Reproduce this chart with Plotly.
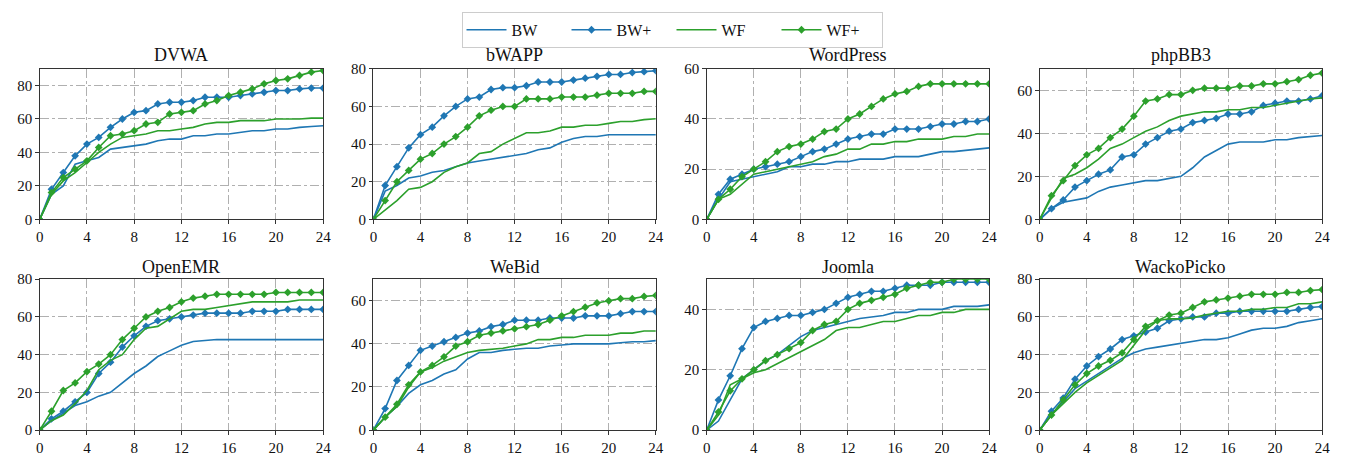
import plotly.graph_objects as go

# ---------------- data ----------------
X = list(range(25))
X_TICKS = [0, 4, 8, 12, 16, 20, 24]
APPS = ["DVWA", "bWAPP", "WordPress", "phpBB3", "OpenEMR", "WeBid", "Joomla", "WackoPicko"]
SERIES = ["BW", "BW+", "WF", "WF+"]
Y_MAX = [90, 80, 60, 70, 80, 70, 50, 80]

DVWA_BW  = [0, 15, 20, 33, 35, 37, 42, 43, 44, 45, 47, 48, 48, 50, 50, 51, 51, 52, 53, 53, 54, 54, 55, 55.5, 56]
DVWA_BWp = [0, 18, 28, 38, 45, 49, 55, 60, 64, 65, 69, 70, 70, 71, 73, 73, 73, 74, 75, 76, 77, 77, 78, 78.5, 78.5]
DVWA_WF  = [0, 15, 23, 28, 34, 40, 45, 49, 50, 51, 53, 53, 54, 55, 57, 58, 58, 59, 59, 59, 60, 60, 60, 60.5, 60.5]
DVWA_WFp = [0, 16, 25, 30, 35, 43, 50, 51, 53, 57, 58, 63, 64, 65, 69, 71, 74, 76, 78, 81, 83, 84, 86, 88, 89]

bWAPP_BW  = [0, 15, 18, 22, 23, 25, 26, 28, 30, 31, 32, 33, 34, 35, 37, 38, 41, 43, 44, 44, 45, 45, 45, 45, 45]
bWAPP_BWp = [0, 18, 28, 38, 45, 49, 55, 60, 64, 65, 69, 70, 70, 71, 73, 73, 73, 74, 75, 76, 77, 77, 78, 78.5, 79]
bWAPP_WF  = [0, 5, 10, 16, 17, 20, 25, 28, 30, 35, 36, 40, 43, 46, 46, 47, 49, 49, 50, 50, 51, 52, 52, 53, 53.5]
bWAPP_WFp = [0, 10, 20, 26, 32, 35, 40, 44, 49, 55, 58, 60, 60, 64, 64, 64, 65, 65, 65, 66, 67, 67, 67, 68, 68]

WordPress_BW  = [0, 8, 15, 16, 17, 18, 19, 21, 21, 22, 22, 23, 23, 24, 24, 24, 25, 25, 25, 26, 27, 27, 27.5, 28, 28.5]
WordPress_BWp = [0, 10, 16, 18, 20, 21, 22, 23, 25, 27, 28, 30, 32, 33, 34, 34, 36, 36, 36, 37, 38, 38, 39, 39, 40]
WordPress_WF  = [0, 8, 10, 14, 18, 19, 20, 21, 22, 23, 25, 26, 28, 28, 30, 30, 31, 31, 32, 32, 32, 33, 33, 34, 34]
WordPress_WFp = [0, 8, 12, 17, 20, 23, 27, 29, 30, 32, 35, 36, 40, 42, 45, 48, 50, 51, 53, 54, 54, 54, 54, 54, 54]

phpBB3_BW  = [0, 5, 8, 9, 10, 13, 15, 16, 17, 18, 18, 19, 20, 24, 29, 32, 35, 36, 36, 36, 37, 37, 38, 38.5, 39]
phpBB3_BWp = [0, 5, 9, 15, 18, 21, 23, 29, 30, 35, 38, 41, 42, 45, 46, 47, 49, 49, 50, 53, 54, 55, 55, 56, 57.5]
phpBB3_WF  = [0, 10, 19, 21, 24, 28, 33, 35, 38, 41, 43, 46, 48, 49, 50, 50, 51, 51, 52, 52, 53, 54, 55, 56, 56.5]
phpBB3_WFp = [0, 11, 18, 25, 30, 33, 38, 42, 48, 55, 56, 58, 58, 60, 61, 61, 61, 62, 62, 63, 63, 64, 65, 67, 68]

OpenEMR_BW  = [0, 5, 9, 13, 15, 18, 20, 25, 30, 34, 39, 42, 45, 47, 47.5, 48, 48, 48, 48, 48, 48, 48, 48, 48, 48]
OpenEMR_BWp = [0, 6, 10, 15, 20, 30, 36, 44, 50, 55, 58, 59, 60, 61, 62, 62, 62, 62, 63, 63, 63, 64, 64, 64, 64]
OpenEMR_WF  = [0, 5, 8, 14, 21, 32, 37, 40, 48, 54, 55, 59, 63, 64, 64, 65, 66, 67, 68, 68, 68, 68, 69, 69, 69]
OpenEMR_WFp = [0, 10, 21, 25, 31, 35, 40, 48, 54, 60, 63, 65, 68, 70, 71, 72, 72, 72, 72, 72, 73, 73, 73, 73, 73]

WeBid_BW  = [0, 6, 11, 17, 21, 23, 26, 28, 33, 36, 36, 37, 37.5, 38, 38, 39, 39.5, 40, 40, 40, 40, 40.5, 41, 41, 41.5]
WeBid_BWp = [0, 10, 23, 30, 37, 39, 41, 43, 45, 46, 48, 49, 51, 51, 51, 52, 52, 52, 53, 53, 53, 54, 55, 55, 55]
WeBid_WF  = [0, 6, 11, 20, 27, 29, 32, 34, 36, 37, 37.5, 38, 39, 40, 42, 42, 43, 43, 44, 44, 44, 45, 45, 46, 46]
WeBid_WFp = [0, 6, 12, 21, 27, 30, 34, 39, 41, 44, 45, 46, 47, 48, 49, 51, 53, 55, 57, 59, 60, 61, 61, 62, 62.5]

Joomla_BW  = [0, 3, 10, 17, 20, 23, 25, 28, 31, 33, 34, 35, 36, 37, 37.5, 38, 39, 39, 40, 40, 40, 41, 41, 41, 41.5]
Joomla_BWp = [0, 10, 18, 27, 34, 36, 37, 38, 38, 39, 40, 42, 44, 45, 46, 46, 47, 48, 48, 48, 49, 49, 49, 49, 49]
Joomla_WF  = [0, 5, 15, 17, 19, 20, 22, 24, 26, 28, 30, 33, 34, 34, 35, 36, 36, 37, 38, 38, 39, 39, 40, 40, 40]
Joomla_WFp = [0, 6, 13, 17, 20, 23, 25, 27, 29, 33, 35, 36, 40, 42, 43, 44, 45, 47, 48, 49, 49, 50, 50, 50, 50]

WackoPicko_BW  = [0, 8, 15, 22, 26, 30, 34, 38, 41, 43, 44, 45, 46, 47, 48, 48, 49, 51, 53, 54, 54, 55, 57, 58, 59]
WackoPicko_BWp = [0, 10, 17, 27, 34, 39, 43, 48, 50, 52, 54, 58, 59, 60, 60, 62, 62, 63, 63, 63, 63, 63, 64, 65, 65.5]
WackoPicko_WF  = [0, 8, 14, 20, 25, 29, 33, 37, 45, 53, 58, 59, 59, 59.5, 61, 62, 63, 63, 64, 64, 65, 65, 67, 67, 68]
WackoPicko_WFp = [0, 8, 16, 24, 30, 34, 37, 41, 48, 55, 58, 61, 62, 65, 68, 69, 70, 71, 72, 72, 72, 73, 73, 74, 74.5]

PANELS = [
    [DVWA_BW, DVWA_BWp, DVWA_WF, DVWA_WFp],
    [bWAPP_BW, bWAPP_BWp, bWAPP_WF, bWAPP_WFp],
    [WordPress_BW, WordPress_BWp, WordPress_WF, WordPress_WFp],
    [phpBB3_BW, phpBB3_BWp, phpBB3_WF, phpBB3_WFp],
    [OpenEMR_BW, OpenEMR_BWp, OpenEMR_WF, OpenEMR_WFp],
    [WeBid_BW, WeBid_BWp, WeBid_WF, WeBid_WFp],
    [Joomla_BW, Joomla_BWp, Joomla_WF, Joomla_WFp],
    [WackoPicko_BW, WackoPicko_BWp, WackoPicko_WF, WackoPicko_WFp],
]

# ---------------- style ----------------
W, H = 1348, 460
FONT = "Liberation Serif, Times New Roman, serif"
BLUE = "#1f77b4"
GREEN = "#2ca02c"
COLORS = [BLUE, BLUE, GREEN, GREEN]
MARKERS = [False, True, False, True]

COL_PX = [(36, 322), (372.7, 657.7), (709, 994), (1045, 1330)]
ROW_PX = [(63, 219), (281, 437.3)]
TITLE_Y_PX = [49, 268]

fig = go.Figure()
annotations = []
for i, app in enumerate(APPS):
    r, c = divmod(i, 4)
    n = i + 1
    xa = "x" if n == 1 else f"x{n}"
    ya = "y" if n == 1 else f"y{n}"
    for s, name in enumerate(SERIES):
        fig.add_trace(go.Scatter(
            x=X, y=PANELS[i][s], name=name, xaxis=xa, yaxis=ya,
            mode="lines+markers" if MARKERS[s] else "lines",
            line=dict(color=COLORS[s], width=1.6),
            marker=dict(symbol="diamond", size=6, color=COLORS[s]),
            showlegend=(i == 0), legendgroup=name,
        ))
    x0, x1 = COL_PX[c]
    y0, y1 = ROW_PX[r]
    axis_common = dict(
        showline=True, linecolor="#333333", linewidth=1, mirror=True,
        ticks="outside", ticklen=3.5, tickcolor="#333333",
        showgrid=True, gridcolor="#b0b0b0", gridwidth=0.8, griddash="dashdot",
        zeroline=False, tickfont=dict(family=FONT, size=15, color="#111111"),
    )
    fig.layout[f"xaxis{'' if n == 1 else n}"] = dict(
        axis_common, domain=[x0 / W, x1 / W], anchor=ya,
        range=[0, 24], tickmode="array", tickvals=X_TICKS,
    )
    fig.layout[f"yaxis{'' if n == 1 else n}"] = dict(
        axis_common, domain=[1 - y1 / H, 1 - y0 / H], anchor=xa,
        range=[0, Y_MAX[i]], dtick=20,
    )
    annotations.append(dict(
        text=app, xref="paper", yref="paper",
        x=(x0 + x1) / 2 / W, y=1 - TITLE_Y_PX[r] / H,
        xanchor="center", yanchor="middle", showarrow=False,
        font=dict(family=FONT, size=18, color="#111111"),
    ))

fig.update_layout(
    width=W, height=H,
    margin=dict(l=0, r=0, t=0, b=0),
    paper_bgcolor="white", plot_bgcolor="white",
    annotations=annotations,
    legend=dict(
        orientation="h", x=0.5, y=1 - 4 / H, xanchor="center", yanchor="top",
        bordercolor="#cccccc", borderwidth=1,
        font=dict(family=FONT, size=16, color="#111111"),
        entrywidth=50, entrywidthmode="pixels", itemwidth=40,
    ),
    font=dict(family=FONT),
)

fig.write_html("out.html", config={"displayModeBar": False},
               post_script="document.body.style.margin='0';")
